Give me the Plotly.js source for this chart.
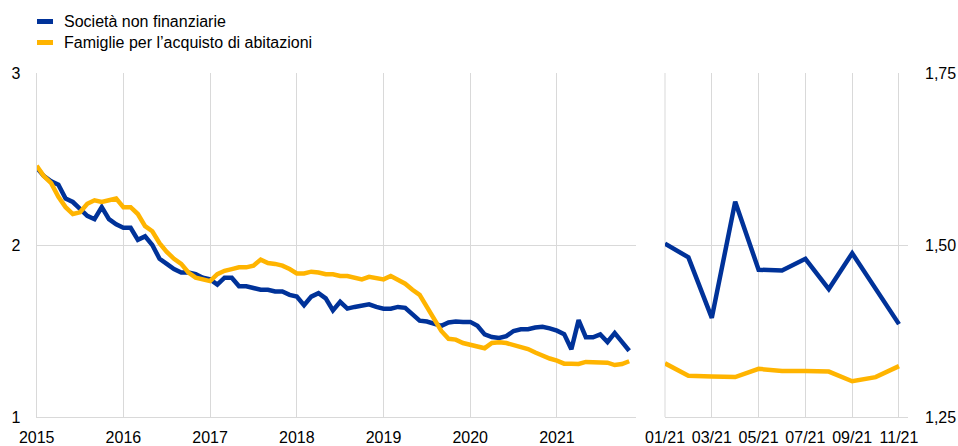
<!DOCTYPE html>
<html>
<head>
<meta charset="utf-8">
<script src="https://cdn.plot.ly/plotly-3.0.1.min.js"></script>
<style>html,body{margin:0;padding:0;background:#fff;}#chart{width:958px;height:446px;}</style>
</head>
<body>
<div id="chart"></div>
<script>
// Series names
const seriesNames = ['Società non finanziarie', 'Famiglie per l\u2019acquisto di abitazioni'];
const startYear = 2015;
const yearTicks = [2015, 2016, 2017, 2018, 2019, 2020, 2021];
const monthLabels2021 = ['01/21','02/21','03/21','04/21','05/21','06/21','07/21','08/21','09/21','10/21','11/21'];
const shownMonthLabels = ['01/21','03/21','05/21','07/21','09/21','11/21'];

// Società non finanziarie, monthly Jan 2015 - Dec 2020
const nfc2015 = [2.45, 2.40, 2.37, 2.35, 2.27, 2.25, 2.21, 2.17, 2.15, 2.22, 2.15, 2.12];
const nfc2016 = [2.10, 2.10, 2.03, 2.05, 2.00, 1.92, 1.89, 1.86, 1.84, 1.84, 1.83, 1.81];
const nfc2017 = [1.80, 1.77, 1.81, 1.81, 1.76, 1.76, 1.75, 1.74, 1.74, 1.73, 1.73, 1.71];
const nfc2018 = [1.70, 1.65, 1.70, 1.72, 1.69, 1.62, 1.67, 1.63, 1.64, 1.645, 1.655, 1.64];
const nfc2019 = [1.63, 1.63, 1.64, 1.635, 1.60, 1.56, 1.555, 1.54, 1.53, 1.55, 1.555, 1.553];
const nfc2020 = [1.553, 1.53, 1.48, 1.465, 1.46, 1.47, 1.50, 1.51, 1.51, 1.52, 1.525, 1.515];
const nfc2021 = [1.502, 1.482, 1.394, 1.563, 1.464, 1.463, 1.480, 1.436, 1.488, 1.437, 1.385];

// Famiglie per l'acquisto di abitazioni
const hh2015 = [2.46, 2.40, 2.36, 2.28, 2.22, 2.18, 2.19, 2.24, 2.26, 2.25, 2.26, 2.27];
const hh2016 = [2.22, 2.22, 2.18, 2.11, 2.08, 2.01, 1.96, 1.92, 1.89, 1.84, 1.81, 1.80];
const hh2017 = [1.79, 1.83, 1.85, 1.86, 1.87, 1.87, 1.88, 1.915, 1.895, 1.89, 1.88, 1.86];
const hh2018 = [1.835, 1.835, 1.845, 1.84, 1.83, 1.83, 1.82, 1.82, 1.81, 1.80, 1.815, 1.81];
const hh2019 = [1.80, 1.82, 1.80, 1.775, 1.74, 1.71, 1.64, 1.57, 1.50, 1.455, 1.45, 1.43];
const hh2020 = [1.42, 1.415, 1.40, 1.43, 1.435, 1.43, 1.42, 1.405, 1.395, 1.375, 1.355, 1.34];
const hh2021 = [1.328, 1.310, 1.309, 1.308, 1.320, 1.317, 1.317, 1.316, 1.302, 1.308, 1.324];

const nfcAll = [].concat(nfc2015, nfc2016, nfc2017, nfc2018, nfc2019, nfc2020, nfc2021);
const hhAll = [].concat(hh2015, hh2016, hh2017, hh2018, hh2019, hh2020, hh2021);
const xYears = nfcAll.map((_, i) => startYear + i / 12);

const BLUE = '#003299';
const YELLOW = '#FFB400';
const GRID = '#d9d9d9';
const FONT = {family: 'Liberation Sans, Arial, sans-serif', size: 16, color: '#000000'};
const LW = 4.5;

const W = 958, H = 446;
const px = v => v / W;
const py = v => 1 - v / H;

const traces = [
  {x: xYears, y: nfcAll, xaxis: 'x', yaxis: 'y', mode: 'lines', name: seriesNames[0],
   line: {color: BLUE, width: LW}, showlegend: false},
  {x: xYears, y: hhAll, xaxis: 'x', yaxis: 'y', mode: 'lines', name: seriesNames[1],
   line: {color: YELLOW, width: LW}, showlegend: false},
  {x: monthLabels2021, y: nfc2021, xaxis: 'x2', yaxis: 'y2', mode: 'lines', name: seriesNames[0],
   line: {color: BLUE, width: LW}, showlegend: false},
  {x: monthLabels2021, y: hh2021, xaxis: 'x2', yaxis: 'y2', mode: 'lines', name: seriesNames[1],
   line: {color: YELLOW, width: LW}, showlegend: false}
];

const layout = {
  width: W, height: H,
  margin: {l: 0, r: 0, t: 0, b: 0},
  paper_bgcolor: '#ffffff', plot_bgcolor: '#ffffff',
  separators: ',.',
  font: FONT,
  showlegend: false,
  xaxis: {
    domain: [px(36.7), px(636)], anchor: 'y',
    range: [2015, 2021.912], tickmode: 'array', tickvals: yearTicks, ticktext: yearTicks.map(String),
    showgrid: true, gridcolor: GRID, gridwidth: 1, zeroline: false,
    showline: true, linecolor: GRID, linewidth: 1,
    ticks: '', ticklabelstandoff: 6, tickfont: FONT
  },
  yaxis: {
    domain: [py(417), py(73)], anchor: 'x',
    range: [1, 3], dtick: 1, tick0: 1,
    showgrid: true, gridcolor: GRID, gridwidth: 1, zeroline: false,
    showline: true, linecolor: GRID, linewidth: 1,
    ticks: '', ticklabelstandoff: 12, tickfont: FONT
  },
  xaxis2: {
    domain: [px(665), px(908)], anchor: 'y2', type: 'category',
    categoryorder: 'array', categoryarray: monthLabels2021,
    range: [0, 10.385], tickmode: 'array', tickvals: shownMonthLabels, ticktext: shownMonthLabels,
    showgrid: true, gridcolor: GRID, gridwidth: 1, zeroline: false,
    showline: true, linecolor: GRID, linewidth: 1,
    ticks: '', ticklabelstandoff: 6, tickfont: FONT
  },
  yaxis2: {
    domain: [py(417), py(73)], anchor: 'x2', side: 'right',
    range: [1.25, 1.75], tickmode: 'array', tickvals: [1.25, 1.5, 1.75], tickformat: '.2f',
    showgrid: true, gridcolor: GRID, gridwidth: 1, zeroline: false, showline: false,
    ticks: '', ticklabelstandoff: 16, tickfont: FONT
  },
  shapes: [
    {type: 'line', xref: 'x2 domain', yref: 'y2 domain', x0: 0, x1: 0, y0: 0, y1: 1,
     line: {color: GRID, width: 1}, layer: 'below'},
    {type: 'line', xref: 'paper', yref: 'paper', x0: px(37), x1: px(53), y0: py(21.5), y1: py(21.5),
     line: {color: BLUE, width: 5}},
    {type: 'line', xref: 'paper', yref: 'paper', x0: px(37), x1: px(53), y0: py(42.5), y1: py(42.5),
     line: {color: YELLOW, width: 5}}
  ],
  annotations: [
    {xref: 'paper', yref: 'paper', x: px(62), y: py(21.5), xanchor: 'left', yanchor: 'middle',
     text: seriesNames[0], showarrow: false, font: FONT},
    {xref: 'paper', yref: 'paper', x: px(62), y: py(42.5), xanchor: 'left', yanchor: 'middle',
     text: seriesNames[1], showarrow: false, font: FONT}
  ]
};

Plotly.newPlot('chart', traces, layout, {displayModeBar: false, staticPlot: true});
</script>
</body>
</html>
